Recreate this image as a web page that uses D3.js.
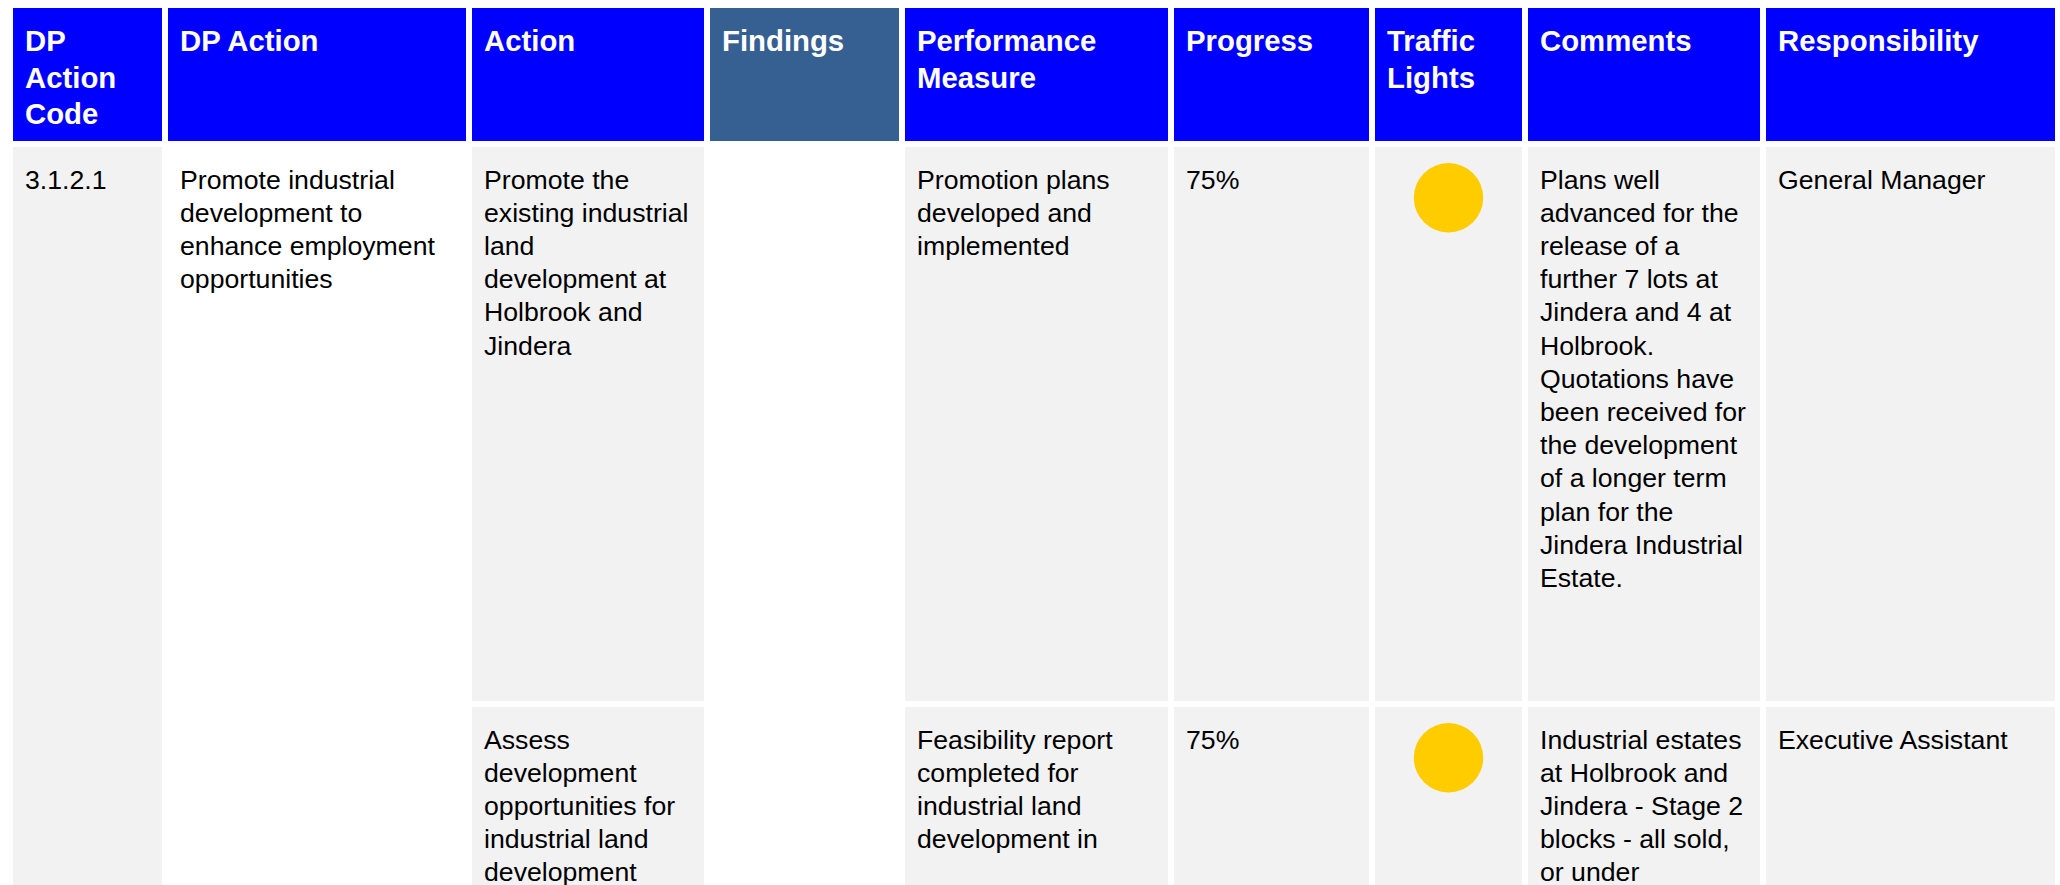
<!DOCTYPE html>
<html>
<head>
<meta charset="utf-8">
<script src="https://cdn.jsdelivr.net/npm/d3@7"></script>
<style>
  html, body { margin: 0; padding: 0; background: #ffffff; }
  svg { display: block; }
  text { font-family: "Liberation Sans", Arial, Helvetica, sans-serif; }
</style>
</head>
<body>
<svg id="chart" width="2060" height="885"></svg>
<script>
// ---------------- DATA ----------------
const headers = [
  ["DP", "Action", "Code"],
  ["DP Action"],
  ["Action"],
  ["Findings"],
  ["Performance", "Measure"],
  ["Progress"],
  ["Traffic", "Lights"],
  ["Comments"],
  ["Responsibility"]
];
const dpActionCode = ["3.1.2.1"];
const dpAction = ["Promote industrial", "development to", "enhance employment", "opportunities"];
const actions = [
  ["Promote the", "existing industrial", "land", "development at", "Holbrook and", "Jindera"],
  ["Assess", "development", "opportunities for", "industrial land", "development"]
];
const findings = [[], []];
const performanceMeasures = [
  ["Promotion plans", "developed and", "implemented"],
  ["Feasibility report", "completed for", "industrial land", "development in"]
];
const progress = ["75%", "75%"];
const trafficLights = ["amber", "amber"];
const comments = [
  ["Plans well", "advanced for the", "release of a", "further 7 lots at", "Jindera and 4 at", "Holbrook.", "Quotations have", "been received for", "the development", "of a longer term", "plan for the", "Jindera Industrial", "Estate."],
  ["Industrial estates", "at Holbrook and", "Jindera - Stage 2", "blocks - all sold,", "or under"]
];
const responsibility = ["General Manager", "Executive Assistant"];

// ---------------- LAYOUT ----------------
const colWidths = [149, 298, 232, 189, 263, 195, 147, 232, 289];
const gap = 6, leftX = 13, topY = 8;
const headerH = 133;
const rowH = [554, 560];
const pad = 12;
const bodyFont = 26.67, headFont = 29.33;
const bodyLine = 33.2, headLine = 36.5;
const bodyFirst = 41.5, headFirst = 43;

const colors = {
  header: "#0000FF",
  findingsHeader: "#366092",
  cell: "#F2F2F2",
  white: "#FFFFFF",
  light: { amber: "#FFCC00", green: "#00B050", red: "#FF0000" }
};

const colIdx = d3.range(headers.length);
const x0 = colIdx.map(i => leftX + d3.sum(colWidths.slice(0, i)) + i * gap);
const xScale = d3.scaleOrdinal().domain(colIdx).range(x0);
const wScale = d3.scaleOrdinal().domain(colIdx).range(colWidths);

const rowTops = [topY + headerH + gap];
rowTops.push(rowTops[0] + rowH[0] + gap);
const yScale = d3.scaleOrdinal().domain(["h", 0, 1]).range([topY, rowTops[0], rowTops[1]]);

const svg = d3.select("#chart");

// ---------- header ----------
const hg = svg.append("g");
const hcells = hg.selectAll("g.h").data(headers).join("g").attr("class", "h")
  .attr("transform", (d, i) => `translate(${xScale(i)},${yScale("h")})`);
hcells.append("rect")
  .attr("width", (d, i) => wScale(i)).attr("height", headerH)
  .attr("fill", (d, i) => i === 3 ? colors.findingsHeader : colors.header);
hcells.append("text")
  .attr("fill", "#fff").attr("font-weight", "bold").attr("font-size", headFont)
  .selectAll("tspan").data(d => d).join("tspan")
  .attr("x", pad).attr("y", (d, j) => headFirst + j * headLine).text(d => d);

// ---------- body cells ----------
const totalBodyH = rowH[0] + gap + rowH[1];
const spanning = [
  { col: 0, lines: dpActionCode, fill: colors.cell },
  { col: 1, lines: dpAction, fill: colors.white },
  { col: 3, lines: [], fill: colors.white }
];
const perRow = [
  { col: 2, data: actions },
  { col: 4, data: performanceMeasures },
  { col: 5, data: progress.map(p => [p]) },
  { col: 6, data: trafficLights.map(() => []) },
  { col: 7, data: comments },
  { col: 8, data: responsibility.map(r => [r]) }
];

const cells = [];
spanning.forEach(s => cells.push({ col: s.col, row: 0, h: totalBodyH, lines: s.lines, fill: s.fill }));
perRow.forEach(p => p.data.forEach((lines, r) =>
  cells.push({ col: p.col, row: r, h: rowH[r], lines, fill: colors.cell })));

const bg = svg.append("g");
const bcells = bg.selectAll("g.c").data(cells).join("g").attr("class", "c")
  .attr("transform", d => `translate(${xScale(d.col)},${yScale(d.row)})`);
bcells.append("rect")
  .attr("width", d => wScale(d.col)).attr("height", d => d.h).attr("fill", d => d.fill);
bcells.append("text")
  .attr("fill", "#000").attr("font-size", bodyFont)
  .selectAll("tspan").data(d => d.lines).join("tspan")
  .attr("x", pad).attr("y", (d, j) => bodyFirst + j * bodyLine).text(d => d);

// ---------- traffic lights ----------
const rLight = 34.7;
svg.append("g").selectAll("circle").data(trafficLights).join("circle")
  .attr("cx", xScale(6) + wScale(6) / 2)
  .attr("cy", (d, i) => yScale(i) + 16 + rLight)
  .attr("r", rLight)
  .attr("fill", d => colors.light[d]);
</script>
</body>
</html>
